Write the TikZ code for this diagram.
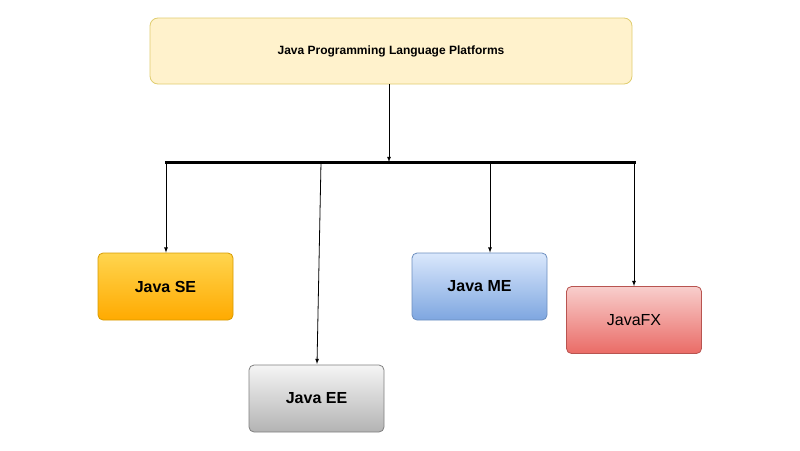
\documentclass[tikz,border=0pt]{standalone}
\usepackage{fontspec}
\setmainfont{Liberation Sans}
\begin{document}
\begin{tikzpicture}[x=1pt,y=-1pt,
  box/.style={rounded corners=5pt,draw,line width=0.8pt,minimum width=135pt,minimum height=67pt,font=\bfseries\fontsize{16}{18}\selectfont},
  arr/.style={-latex,line width=0.8pt}]
\useasboundingbox (0,0) rectangle (800,450);
\definecolor{seT}{HTML}{FFD54F}\definecolor{seB}{HTML}{FFAA00}
\definecolor{meT}{HTML}{DAE8FC}\definecolor{meB}{HTML}{7EA6E0}
\definecolor{fxT}{HTML}{F8CECC}\definecolor{fxB}{HTML}{EA6B66}
\definecolor{eeT}{HTML}{F5F5F5}\definecolor{eeB}{HTML}{B3B3B3}
\node[rounded corners=8pt,draw=black!15!yellow!60!brown!70,fill={rgb,255:red,255;green,242;blue,204},line width=0.8pt,minimum width=482pt,minimum height=66pt,font=\bfseries\fontsize{12}{14}\selectfont] (top) at (391,51) {Java Programming Language Platforms};
\node[box,draw={rgb,255:red,215;green,155;blue,0},top color=seT,bottom color=seB] (se) at (165.5,286.5) {Java SE};
\node[box,draw=black!50,top color=eeT,bottom color=eeB] (ee) at (316.5,398.5) {Java EE};
\node[box,draw={rgb,255:red,108;green,142;blue,191},top color=meT,bottom color=meB] (me) at (479.5,286.5) {Java ME};
\node[box,draw={rgb,255:red,184;green,84;blue,80},top color=fxT,bottom color=fxB,font=\fontsize{16}{18}\selectfont] (fx) at (634,320) {JavaFX};
\coordinate (bl) at (165,162); \coordinate (br) at (636,162);
\draw[line width=3pt] (bl) -- (br);
\coordinate (bm) at (389,162);
\draw[arr] (top.south -| bm) -- (bm);
\draw[arr] (166,162) -- (se.north -| 166,0);
\draw[arr] (321,162) -- (317,364);
\draw[arr] (490,162) -- (me.north -| 490,0);
\draw[arr] (634,162) -- (fx.north);
\end{tikzpicture}
\end{document}
